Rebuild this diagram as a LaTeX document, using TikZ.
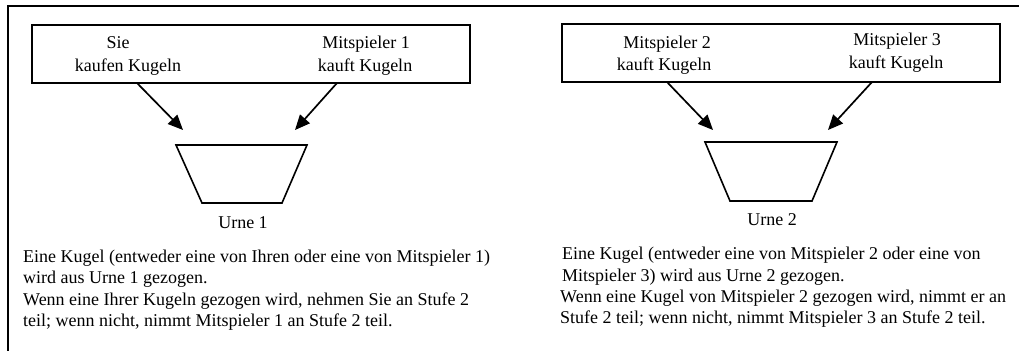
\documentclass[tikz,border=0pt]{standalone}
\usepackage{fontspec}
\setmainfont{Liberation Serif}
\usetikzlibrary{arrows.meta}
\begin{document}
\begin{tikzpicture}[x=1pt,y=-1pt,
 lbl/.style={font=\fontsize{18}{20}\selectfont, inner sep=0pt, anchor=base},
 para/.style={font=\fontsize{18}{20}\selectfont, inner sep=0pt, anchor=base west},
 boxstyle/.style={draw, line width=1.6pt, inner sep=0pt},
 arr/.style={line width=1.7pt, -{Triangle[length=15pt,width=13pt]}},
 urn/.style={line width=1.6pt, line join=miter},
]
\useasboundingbox (0,0) rectangle (1019,351);
\draw[line width=1.8pt] (1019,6) -- (8,6) -- (8,351);

% left group
\node[boxstyle, minimum width=438pt, minimum height=58pt] (box1) at (251,54) {};
\node[lbl] (s1a) at (118,48) {Sie};
\node[lbl] (s1b) at (128,71) {kaufen Kugeln};
\node[lbl] (m1a) at (366,48) {Mitspieler 1};
\node[lbl] (m1b) at (365,71) {kauft Kugeln};
\coordinate (a1s) at (137,83); \coordinate (a1e) at (183,130);
\coordinate (a2s) at (337,83); \coordinate (a2e) at (295,130);
\draw[arr] (a1s) -- (a1e);
\draw[arr] (a2s) -- (a2e);
\draw[urn] (176,145) -- (307,145) -- (282,203) -- (202,203) -- cycle;
\node[lbl] (u1) at (243,228) {Urne 1};
\node[para] (p1a) at (23,262) {Eine Kugel (entweder eine von Ihren oder eine von Mitspieler 1)};
\node[para] (p1b) at (23,283) {wird aus Urne 1 gezogen.};
\node[para] (p1c) at (23,305) {Wenn eine Ihrer Kugeln gezogen wird, nehmen Sie an Stufe 2};
\node[para] (p1d) at (23,326) {teil; wenn nicht, nimmt Mitspieler 1 an Stufe 2 teil.};

% right group
\node[boxstyle, minimum width=438pt, minimum height=58pt] (box2) at (781,53) {};
\node[lbl] (m2a) at (667,48) {Mitspieler 2};
\node[lbl] (m2b) at (664,70) {kauft Kugeln};
\node[lbl] (m3a) at (897,45) {Mitspieler 3};
\node[lbl] (m3b) at (896,68) {kauft Kugeln};
\coordinate (a3s) at (667,82); \coordinate (a3e) at (713,130);
\coordinate (a4s) at (872,82); \coordinate (a4e) at (828,130);
\draw[arr] (a3s) -- (a3e);
\draw[arr] (a4s) -- (a4e);
\draw[urn] (705,142) -- (837,142) -- (812,201) -- (730,201) -- cycle;
\node[lbl] (u2) at (772,225) {Urne 2};
\node[para] (p2a) at (562,259) {Eine Kugel (entweder eine von Mitspieler 2 oder eine von};
\node[para] (p2b) at (562,281) {Mitspieler 3) wird aus Urne 2 gezogen.};
\node[para] (p2c) at (560,302.7) {Wenn eine Kugel von Mitspieler 2 gezogen wird, nimmt er an};
\node[para] (p2d) at (560,323) {Stufe 2 teil; wenn nicht, nimmt Mitspieler 3 an Stufe 2 teil.};
\end{tikzpicture}
\end{document}
